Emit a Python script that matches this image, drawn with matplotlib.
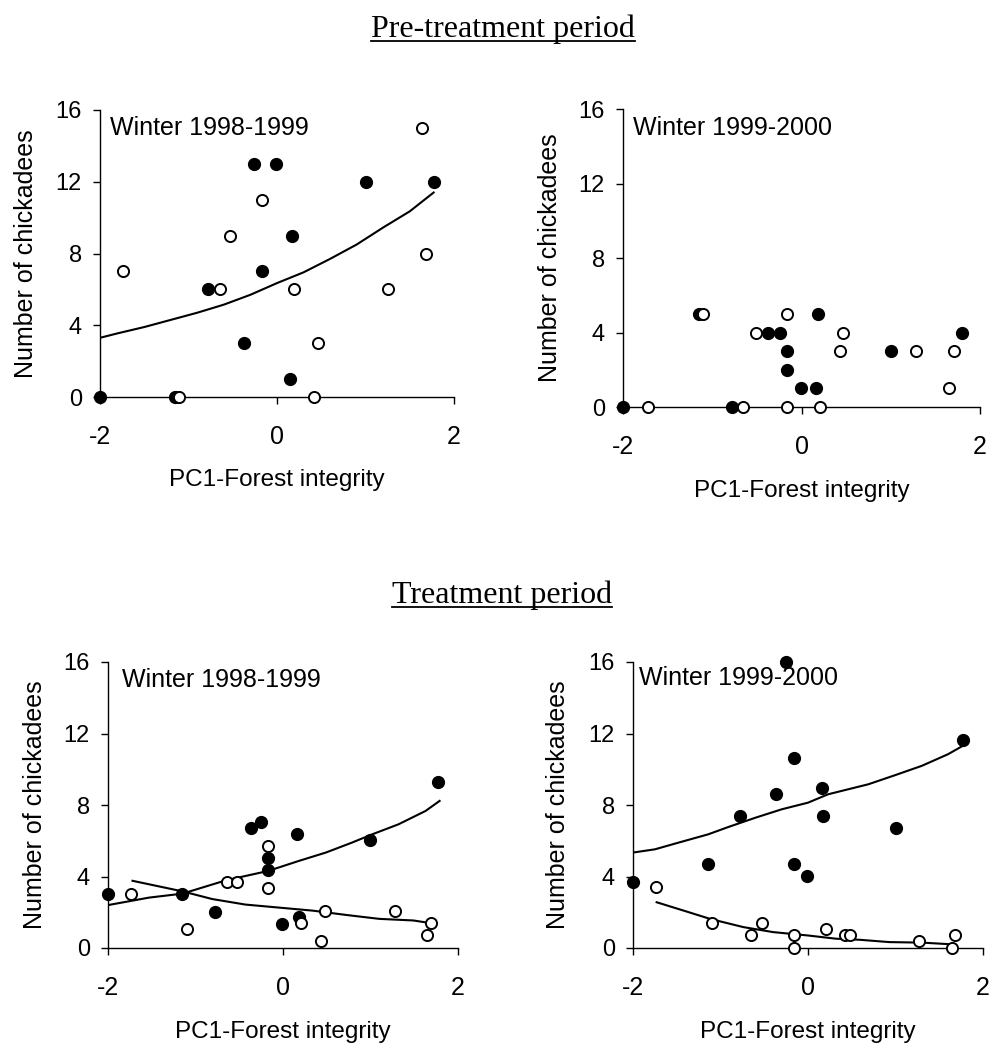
import matplotlib
matplotlib.use("Agg")
import matplotlib.pyplot as plt
from matplotlib.lines import Line2D


# ---- Pre-treatment, winter 1998-1999 ----
pre_9899_filled_x = [-2.0, -1.15, -0.78, -0.26, -0.01, -0.17, 0.17, -0.37, 0.15, 1.0, 1.77]
pre_9899_filled_y = [0, 0, 6, 13, 13, 7, 9, 3, 1, 12, 12]
pre_9899_open_x = [-1.74, -1.11, -0.64, -0.53, -0.17, 0.19, 0.42, 0.46, 1.25, 1.64, 1.68]
pre_9899_open_y = [7, 0, 6, 9, 11, 6, 0, 3, 6, 15, 8]
pre_9899_fit_x = [-2.0, -1.8, -1.5, -1.2, -0.9, -0.6, -0.3, 0.0, 0.3, 0.6, 0.9, 1.2, 1.5, 1.77]
pre_9899_fit_y = [3.3, 3.55, 3.9, 4.3, 4.7, 5.15, 5.7, 6.35, 6.95, 7.7, 8.5, 9.45, 10.35, 11.4]

# ---- Pre-treatment, winter 1999-2000 ----
pre_9900_filled_x = [-2.0, -1.15, -0.78, -0.37, -0.24, -0.16, -0.16, -0.01, 0.16, 0.18, 1.0, 1.8]
pre_9900_filled_y = [0, 5, 0, 4, 4, 3, 2, 1, 1, 5, 3, 4]
pre_9900_open_x = [-1.72, -1.10, -0.65, -0.51, -0.16, -0.16, 0.21, 0.43, 0.47, 1.28, 1.65, 1.71]
pre_9900_open_y = [0, 5, 0, 4, 5, 0, 0, 3, 4, 3, 1, 3]

# ---- Treatment, winter 1998-1999 ----
trt_9899_filled_x = [-2.0, -1.15, -0.78, -0.37, -0.25, -0.17, -0.17, 0.16, 0.99, 1.77, -0.01, 0.18]
trt_9899_filled_y = [3.0, 3.0, 2.03, 6.7, 7.07, 5.02, 4.35, 6.38, 6.03, 9.29, 1.35, 1.72]
trt_9899_open_x = [-1.74, -0.64, -0.53, -0.17, -0.17, -1.10, 0.20, 0.48, 0.43, 1.28, 1.64, 1.69]
trt_9899_open_y = [3.0, 3.69, 3.69, 5.69, 3.38, 1.04, 1.39, 2.06, 0.39, 2.06, 0.70, 1.39]
trt_9899_fit_filled_x = [-2.0, -1.53, -1.15, -0.65, -0.17, 0.18, 0.49, 0.79, 1.02, 1.32, 1.63, 1.79]
trt_9899_fit_filled_y = [2.4, 2.82, 3.04, 3.79, 4.31, 4.87, 5.34, 5.9, 6.36, 6.92, 7.67, 8.23]
trt_9899_fit_open_x = [-1.72, -1.45, -1.15, -0.81, -0.43, 0.0, 0.34, 0.72, 1.10, 1.49, 1.69]
trt_9899_fit_open_y = [3.76, 3.48, 3.17, 2.74, 2.43, 2.24, 2.09, 1.85, 1.63, 1.54, 1.39]

# ---- Treatment, winter 1999-2000 ----
trt_9900_filled_x = [-2.0, -0.25, -0.16, -0.37, -0.78, 0.16, 0.17, 1.0, 1.77, -1.14, -0.16, -0.01]
trt_9900_filled_y = [3.69, 16.0, 10.63, 8.62, 7.39, 8.96, 7.39, 6.72, 11.64, 4.70, 4.70, 4.03]
trt_9900_open_x = [-1.74, -1.10, -0.65, -0.53, -0.16, -0.16, 0.20, 0.42, 0.48, 1.27, 1.64, 1.68]
trt_9900_open_y = [3.39, 1.39, 0.70, 1.39, 0.70, 0.0, 1.04, 0.70, 0.70, 0.39, 0.0, 0.70]
trt_9900_fit_filled_x = [-2.0, -1.75, -1.44, -1.14, -0.91, -0.60, -0.30, 0.0, 0.23, 0.46, 0.69, 0.99, 1.30, 1.60, 1.78]
trt_9900_fit_filled_y = [5.34, 5.52, 5.95, 6.36, 6.77, 7.29, 7.76, 8.13, 8.6, 8.88, 9.16, 9.66, 10.19, 10.84, 11.34]
trt_9900_fit_open_x = [-1.73, -1.42, -1.12, -0.74, -0.40, 0.0, 0.32, 0.59, 0.93, 1.31, 1.66]
trt_9900_fit_open_y = [2.56, 2.09, 1.63, 1.17, 0.89, 0.70, 0.52, 0.46, 0.33, 0.30, 0.20]

X_TICKS = [-2, 0, 2]
Y_TICKS = [0, 4, 8, 12, 16]
X_LABEL = "PC1-Forest integrity"
Y_LABEL = "Number of chickadees"

FIG_W, FIG_H = 990, 1044


def _setup_style():
    plt.rcParams.update({
        "font.family": ["Liberation Sans", "DejaVu Sans"],
        "axes.unicode_minus": False,
        "axes.linewidth": 1.0,
    })


def _rect(left, right, top, bottom):
    # pixel box -> figure fraction
    return [left / FIG_W, 1 - bottom / FIG_H, (right - left) / FIG_W, (bottom - top) / FIG_H]


def draw_panel(fig, box, title, title_xy, filled, opened, fits, ylab_x, xlab_y):
    ax = fig.add_axes(_rect(*box))
    for fx, fy in fits:
        ax.plot(fx, fy, color="black", linewidth=1.5, zorder=2)
    ax.plot(filled[0], filled[1], "o", color="black", markersize=8.5,
            clip_on=False, zorder=3)
    ax.plot(opened[0], opened[1], "o", markerfacecolor="white",
            markeredgecolor="black", markeredgewidth=1.4, markersize=8,
            clip_on=False, zorder=4)

    ax.set_xlim(-2, 2)
    ax.set_ylim(0, 16)
    ax.set_xticks(X_TICKS)
    ax.set_yticks(Y_TICKS)
    ax.spines["top"].set_visible(False)
    ax.spines["right"].set_visible(False)
    ax.tick_params(axis="x", direction="out", length=5, width=1.0, pad=15, labelsize=18)
    ax.tick_params(axis="y", direction="out", length=5, width=1.0, pad=8, labelsize=17)

    ax.set_xlabel(X_LABEL, fontsize=17.5, va="top")
    ax.xaxis.set_label_coords(0.5, xlab_y)
    ax.set_ylabel(Y_LABEL, fontsize=18)
    ax.yaxis.set_label_coords(ylab_x, 0.5)

    ax.text(title_xy[0], title_xy[1], title, transform=ax.transAxes,
            fontsize=18, ha="left", va="baseline")
    return ax


def add_heading(fig, text, x_pix, base_pix):
    t = fig.text(x_pix / FIG_W, 1 - base_pix / FIG_H, text, ha="center", va="baseline",
                 fontsize=23, family=["Liberation Serif", "DejaVu Serif"])
    fig.canvas.draw()
    bb = t.get_window_extent()
    y = 1 - (base_pix + 3.5) / FIG_H
    fig.add_artist(Line2D([bb.x0 / FIG_W, bb.x1 / FIG_W], [y, y],
                          transform=fig.transFigure, color="black", linewidth=1.3))


def main():
    _setup_style()
    fig = plt.figure(figsize=(FIG_W / 100, FIG_H / 100), dpi=100)

    draw_panel(fig, (100, 454, 110, 397), "Winter 1998-1999", (0.028, 0.913),
               (pre_9899_filled_x, pre_9899_filled_y),
               (pre_9899_open_x, pre_9899_open_y),
               [(pre_9899_fit_x, pre_9899_fit_y)],
               ylab_x=-0.175, xlab_y=-0.25)
    draw_panel(fig, (623, 980, 109, 407), "Winter 1999-2000", (0.028, 0.913),
               (pre_9900_filled_x, pre_9900_filled_y),
               (pre_9900_open_x, pre_9900_open_y),
               [],
               ylab_x=-0.171, xlab_y=-0.245)
    draw_panel(fig, (108, 458, 662, 948), "Winter 1998-1999", (0.04, 0.913),
               (trt_9899_filled_x, trt_9899_filled_y),
               (trt_9899_open_x, trt_9899_open_y),
               [(trt_9899_fit_filled_x, trt_9899_fit_filled_y),
                (trt_9899_fit_open_x, trt_9899_fit_open_y)],
               ylab_x=-0.174, xlab_y=-0.255)
    draw_panel(fig, (633, 983, 662, 948), "Winter 1999-2000", (0.017, 0.92),
               (trt_9900_filled_x, trt_9900_filled_y),
               (trt_9900_open_x, trt_9900_open_y),
               [(trt_9900_fit_filled_x, trt_9900_fit_filled_y),
                (trt_9900_fit_open_x, trt_9900_fit_open_y)],
               ylab_x=-0.18, xlab_y=-0.255)

    add_heading(fig, "Pre-treatment period", 503, 37)
    add_heading(fig, "Treatment period", 502, 603)

    fig.savefig("out.png", dpi=100)
    plt.close(fig)


if __name__ == "__main__":
    main()
